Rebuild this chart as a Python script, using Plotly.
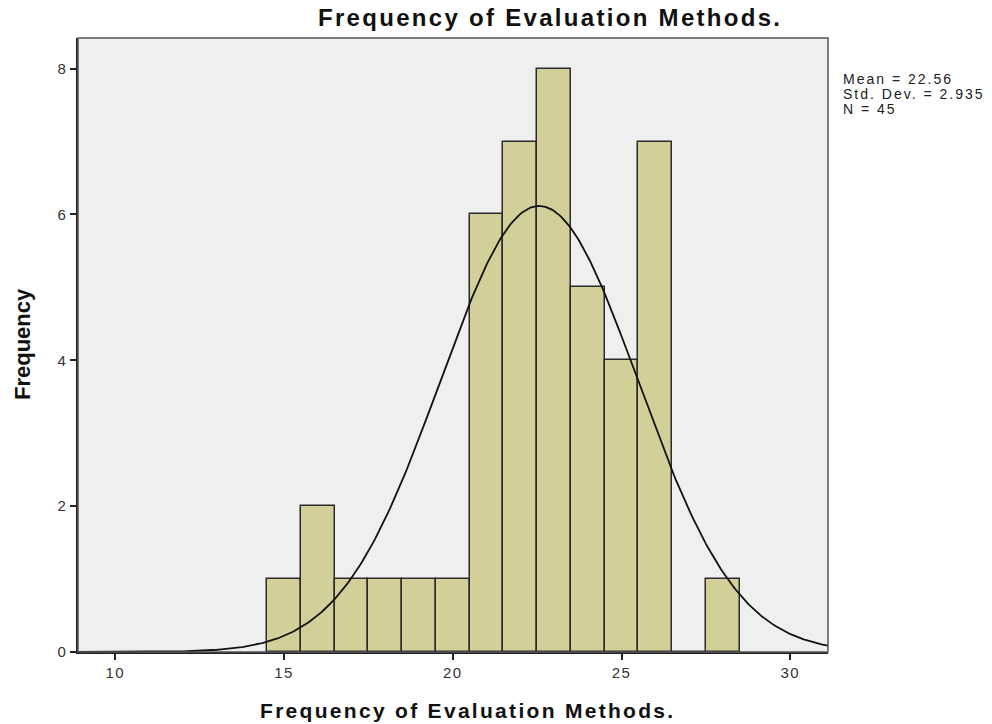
import numpy as np
import plotly.graph_objects as go

# Histogram data (bin centers, width 1)
bin_centers = [15, 16, 17, 18, 19, 20, 21, 22, 23, 24, 25, 26, 27, 28]
counts = [1, 2, 1, 1, 1, 1, 6, 7, 8, 5, 4, 7, 0, 1]
mean_val = 22.56
std_val = 2.935
n_val = 45
bin_width = 1.0

x_ticks = [10, 15, 20, 25, 30]
y_ticks = [0, 2, 4, 6, 8]

title_text = "Frequency of Evaluation Methods."
x_title = "Frequency of Evaluation Methods."
y_title = "Frequency"
stats_lines = [f"Mean = {mean_val:.2f}", f"Std. Dev. = {std_val:.3f}", f"N = {n_val}"]

# Fitted normal curve defined by the reported statistics
xc = np.linspace(8.9, 31.12, 400)
yc = n_val * bin_width * np.exp(-0.5 * ((xc - mean_val) / std_val) ** 2) / (std_val * np.sqrt(2 * np.pi))

L, R, T, B = 78, 164, 38, 72
PW, PH = 992 - L - R, 724 - T - B


def px_x(p):
    return (p - L) / PW


def px_y(p):
    return (724 - B - p) / PH


def spaced(s, sp):
    return f'<span style="letter-spacing:{sp}px">{s}</span>'


fig = go.Figure()
fig.add_trace(go.Bar(
    x=bin_centers, y=counts, width=bin_width,
    marker=dict(color="#d3cf98", line=dict(color="#2b2b2b", width=1.5)),
    hoverinfo="x+y",
))
fig.add_trace(go.Scatter(
    x=xc, y=yc, mode="lines",
    line=dict(color="#111111", width=1.8),
    hoverinfo="skip",
))

fig.update_layout(
    width=992, height=724,
    margin=dict(l=L, r=R, t=T, b=B),
    paper_bgcolor="white",
    plot_bgcolor="#efefef",
    showlegend=False,
    bargap=0,
    font=dict(family="Liberation Sans", color="#222222"),
)
fig.update_xaxes(
    range=[8.895, 31.117], tickvals=x_ticks, ticktext=[spaced(str(v), 1.5) for v in x_ticks],
    showgrid=False, zeroline=False,
    showline=True, linecolor="#222222", linewidth=1.5,
    ticks="outside", ticklen=6, tickwidth=1.5, tickcolor="#222222",
    tickfont=dict(size=15, color="#333333", family="Liberation Sans"),
)
fig.update_yaxes(
    range=[0, 8.42], tickvals=y_ticks, ticktext=[spaced(str(v), 1.5) for v in y_ticks],
    showgrid=False, zeroline=False,
    showline=True, linecolor="#222222", linewidth=1.5,
    ticks="outside", ticklen=6, tickwidth=1.5, tickcolor="#222222",
    tickfont=dict(size=15, color="#333333", family="Liberation Sans"),
)

# Frame on top/right
fig.add_shape(type="rect", xref="paper", yref="paper", x0=0, x1=1, y0=0, y1=1,
              line=dict(color="#555555", width=1.5), layer="above")

fig.add_annotation(
    xref="paper", yref="paper", x=px_x(550), y=px_y(18),
    text="<b>" + spaced(title_text, 2.3) + "</b>", showarrow=False,
    xanchor="center", yanchor="middle",
    font=dict(size=24, color="#111111", family="Liberation Sans"),
)
fig.add_annotation(
    xref="paper", yref="paper", x=px_x(467), y=px_y(710),
    text="<b>" + spaced(x_title, 2.3) + "</b>", showarrow=False,
    xanchor="center", yanchor="middle",
    font=dict(size=21, color="#111111", family="Liberation Sans"),
)
fig.add_annotation(
    xref="paper", yref="paper", x=px_x(22), y=px_y(344),
    text="<b>" + y_title + "</b>", showarrow=False, textangle=-90,
    xanchor="center", yanchor="middle",
    font=dict(size=22, color="#111111", family="Liberation Sans"),
)
for i, line in enumerate(stats_lines):
    fig.add_annotation(
        xref="paper", yref="paper", x=px_x(841), y=px_y(79 + 15 * i),
        text=spaced(line, 2), showarrow=False, xanchor="left", yanchor="middle",
        font=dict(size=14, color="#222222", family="Liberation Sans"),
    )

fig.write_html("out.html")
